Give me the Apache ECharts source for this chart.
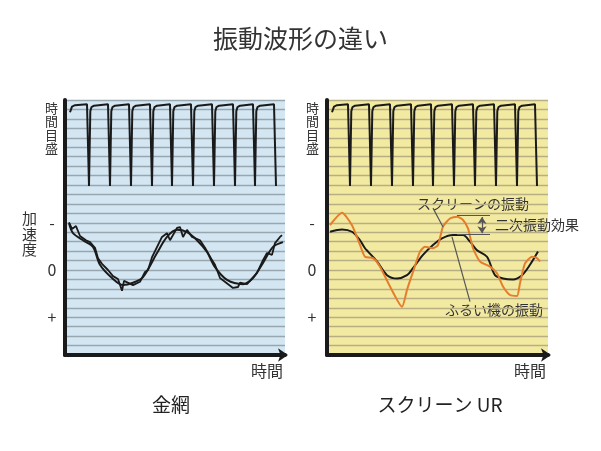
<!DOCTYPE html>
<html lang="ja">
<head>
<meta charset="UTF-8">
<title>振動波形の違い</title>
<style>
  body { margin: 0; background: #fff; }
  #chart { width: 601px; height: 451px; }
</style>
</head>
<body>
<div id="chart"></div>
<script src="https://cdn.jsdelivr.net/npm/echarts@6/dist/echarts.min.js"></script>
<script>
// 加速度: "-" = -10, "0" = 0, "+" = 10 (下向きが +)
var accelTicks = { '-10': '-', '0': '0', '10': '+' };

// 時間目盛のパルス (落ちる位置)
var pulseDropsMesh = [24, 45, 66, 87, 107, 128, 149, 170, 190, 211];
var pulseDropsScreen = [23, 44, 65, 86, 106, 127, 148, 169, 190, 210];
var pulseTop = -35.1, pulseBottom = -17.8;

// 金網: 2本の黒い波形
var meshSmooth = [
  [4, -9.9], [8, -7.8], [18, -6.3], [28, -4.9], [35, -1.1], [47, 1.7], [58, 3.2],
  [68, 2.7], [78, 1.5], [92, -3.6], [102, -7.0], [112, -8.5], [122, -8.0],
  [132, -6.3], [142, -3.8], [150, -0.6], [162, 2.1], [178, 3.0], [188, 1.7],
  [198, -1.5], [208, -4.9], [218, -5.9]
];
var meshRough = [
  [4, -10.1], [7, -8.7], [11, -9.3], [15, -7.2], [21, -6.3], [25, -5.9], [30, -4.7],
  [33, -2.5], [37, -1.3], [43, 0], [48, 1.3], [53, 1.9], [57, 4.4], [59, 2.3],
  [68, 3.2], [75, 2.5], [80, 0.4], [83, 0], [87, -2.7], [97, -7.0], [102, -7.8],
  [105, -6.3], [112, -8.9], [115, -9.1], [118, -7.0], [122, -8.5], [127, -7.0],
  [135, -6.3], [140, -4.7], [147, -2.1], [150, -1.1], [155, 1.7], [168, 3.8],
  [173, 3.6], [175, 2.7], [182, 3.0], [192, 0.6], [198, -2.1], [202, -3.6],
  [207, -3.2], [210, -5.7], [215, -7.0], [217, -7.4]
];

// スクリーン UR: ふるい機の振動(黒) と スクリーンの振動(橙)
var screenMachine = [
  [3, -8.1], [15, -8.6], [25, -8.1], [33, -6.3], [38, -4.6], [41, -3.9], [50, -1.8],
  [60, 1.1], [70, 1.8], [80, 1.1], [86, -0.4], [96, -3.2], [106, -5.3], [115, -6.7],
  [126, -7.4], [136, -7.4], [143, -6.0], [150, -4.2], [160, -2.8], [168, 1.1],
  [176, 1.8], [186, 2.0], [195, 1.1], [203, -1.1], [211, -3.9]
];
var screenOrange = [
  [3, -9.5], [15, -12.1], [25, -9.5], [33, -5.3], [38, -2.8], [46, -2.5], [53, -0.7],
  [63, 3.5], [75, 7.8], [80, 4.2], [86, 0.4], [93, -3.9], [98, -4.9], [106, -4.6],
  [111, -5.3], [116, -9.2], [123, -10.9], [130, -11.3], [136, -10.6], [141, -8.8],
  [146, -4.6], [153, -1.8], [163, -0.7], [170, 0.7], [176, 3.5], [183, 5.3],
  [190, 5.5], [193, 2.8], [198, -1.4], [205, -2.8], [210, -2.5], [213, -1.8]
];

// 注釈の線 (スクリーン UR 側)
var calloutLines = [
  [[106, -13.1], [116, -9.1]],
  [[125, -7.0], [143, 6.7]],
  [[130, -11.5], [163, -11.5]],
  [[130, -7.5], [163, -7.5]]
];
var secondaryArrow = [[155, -11.2], [155, -7.8]];

function pulseTrain(drops, start) {
  var pts = [[start, -33.4], [start + 2, -34.6], [start + 5, -34.9]];
  drops.forEach(function (d, i) {
    pts.push([d - 2, pulseTop]);
    pts.push([d, pulseBottom]);
    if (i < drops.length - 1) {
      pts.push([d + 1.3, -33.6]);
      pts.push([d + 2.5, -34.5]);
      pts.push([d + 5, -34.8]);
    }
  });
  return pts;
}

var font = '"Noto Sans CJK JP", "Noto Sans", sans-serif';
var ink = '#1a1a1a';

function makeXAxis(idx, max) {
  return {
    gridIndex: idx, type: 'value', min: 0, max: max,
    name: '時間', nameLocation: 'end', nameGap: -2,
    nameTextStyle: { fontFamily: font, fontSize: 16, color: '#333', align: 'right', verticalAlign: 'top', padding: [8, 0, 0, 0] },
    axisLine: { onZero: false, symbol: ['none', 'arrow'], symbolSize: [10, 10], symbolOffset: [0, 3], lineStyle: { color: ink, width: 4 } },
    axisTick: { show: false }, axisLabel: { show: false }, splitLine: { show: false }
  };
}
function makeYAxis(idx, lineColor, margin) {
  return {
    gridIndex: idx, type: 'value', inverse: true, min: -36, max: 18, interval: 2,
    axisLine: { show: true, onZero: false, lineStyle: { color: ink, width: 4 } },
    axisTick: { show: false },
    axisLabel: {
      interval: 0, margin: margin, align: 'center', fontFamily: font, fontSize: 16, color: '#333',
      formatter: function (v) { return accelTicks[String(Math.round(v))] || ''; }
    },
    splitLine: { show: true, lineStyle: { color: lineColor, width: 1.3 } }
  };
}
function line(idx, data, color, width, smooth) {
  return {
    type: 'line', xAxisIndex: idx, yAxisIndex: idx, data: data, symbol: 'none',
    smooth: smooth, lineStyle: { color: color, width: width }, silent: true, animation: false
  };
}

var calloutData = calloutLines.map(function (seg) {
  return [{ coord: seg[0] }, { coord: seg[1] }];
});
calloutData.push([
  { coord: secondaryArrow[0], symbol: 'arrow', symbolSize: 7 },
  { coord: secondaryArrow[1], symbol: 'arrow', symbolSize: 7 }
]);

var chart = echarts.init(document.getElementById('chart'));
chart.setOption({
  animation: false,
  title: {
    text: '振動波形の違い', left: 'center', top: 21,
    textStyle: { fontFamily: font, fontSize: 25, fontWeight: 'normal', color: '#333' }
  },
  grid: [
    { left: 65, top: 100, width: 220, height: 255, show: true, backgroundColor: '#d3e6f2', borderWidth: 0 },
    { left: 327, top: 100, width: 221, height: 255, show: true, backgroundColor: '#f3eaa2', borderWidth: 0 }
  ],
  xAxis: [makeXAxis(0, 220), makeXAxis(1, 221)],
  yAxis: [makeYAxis(0, '#98a6b0', 13), makeYAxis(1, '#b8ae84', 15)],
  series: [
    line(0, pulseTrain(pulseDropsMesh, 5), ink, 2, false),
    line(0, meshRough, ink, 1.8, false),
    line(0, meshSmooth, ink, 2, 0.3),
    line(1, pulseTrain(pulseDropsScreen, 5), ink, 2, false),
    line(1, screenMachine, ink, 2, 0.3),
    Object.assign(line(1, screenOrange, '#e57d2c', 2, 0.2), {
      markLine: {
        silent: true, symbol: ['none', 'none'], label: { show: false },
        lineStyle: { color: '#555', width: 1.2, type: 'solid' },
        data: calloutData
      }
    })
  ],
  graphic: [
    { type: 'text', left: 45, top: 101, style: { text: '時\n間\n目\n盛', font: '13px ' + font, lineHeight: 13.5, fill: '#333', align: 'center' } },
    { type: 'text', left: 306, top: 101, style: { text: '時\n間\n目\n盛', font: '13px ' + font, lineHeight: 13.5, fill: '#333', align: 'center' } },
    { type: 'text', left: 22, top: 211, style: { text: '加\n速\n度', font: '15px ' + font, lineHeight: 15.5, fill: '#333', align: 'center' } },
    { type: 'text', x: 171, y: 405, style: { text: '金網', font: '19px ' + font, fill: '#222', align: 'center', verticalAlign: 'middle' } },
    { type: 'text', x: 440, y: 405, style: { text: 'スクリーン UR', font: '19px ' + font, fill: '#222', align: 'center', verticalAlign: 'middle' } },
    { type: 'text', x: 417, y: 204, style: { text: 'スクリーンの振動', font: '14px ' + font, fill: '#333', verticalAlign: 'middle' } },
    { type: 'text', x: 495, y: 225, style: { text: '二次振動効果', font: '14px ' + font, fill: '#333', verticalAlign: 'middle' } },
    { type: 'text', x: 445, y: 310, style: { text: 'ふるい機の振動', font: '14px ' + font, fill: '#333', verticalAlign: 'middle' } }
  ]
});
</script>
</body>
</html>
